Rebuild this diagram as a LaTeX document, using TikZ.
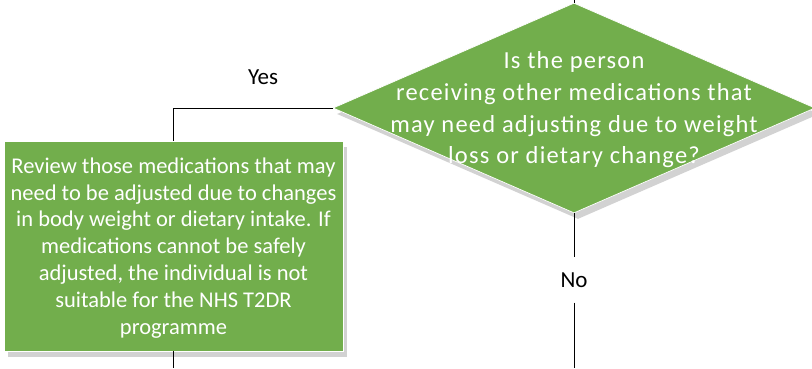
\documentclass[tikz,border=0pt]{standalone}
\usepackage{fontspec}
\setmainfont{Carlito}
\newfontfamily\decfont[LetterSpace=5]{Carlito}
\usetikzlibrary{shapes.geometric,shadows}
\definecolor{boxgreen}{HTML}{72AE4C}
\begin{document}
\begin{tikzpicture}[x=1pt,y=-1pt,
  shapefill/.style={fill=boxgreen, draw=white, line width=0.7pt,
    drop shadow={shadow xshift=4pt, shadow yshift=-6pt, fill=black!25, opacity=0.7}},
  conn/.style={draw=black, line width=1pt},
  lbl/.style={font=\fontsize{23}{26}\selectfont, text=black},
  wtext/.style={text=white, align=center, inner sep=0pt}]
\useasboundingbox (0,0) rectangle (812,368);
% decision
\node[shapefill, diamond, minimum width=482pt, minimum height=210pt, aspect=2.295, inner sep=0pt] (dec) at (574,108) {};
\node[wtext, font=\decfont\fontsize{24.5}{31.7}\selectfont] (dectext) at (574,110)
  {Is the person\\receiving other medications that\\may need adjusting due to weight\\loss or dietary change?};
% review box
\node[shapefill, rectangle, minimum width=339pt, minimum height=210pt, inner sep=0pt] (rev) at (173.5,246) {};
\node[wtext, font=\fontsize{22.5}{26.9}\selectfont] (revtext) at (173.5,248)
  {Review those medications that may\\need to be adjusted due to changes\\in body weight or dietary intake. If\\medications cannot be safely\\adjusted, the individual is not\\suitable for the NHS T2DR\\programme};
% coordinates
\coordinate (top) at (574,0);
\coordinate (corner) at (173.5,108);
\coordinate (revend) at (173.5,368);
\coordinate (noend) at (574,368);
\node[lbl, inner sep=0pt] (yes) at (263,77) {Yes};
\node[lbl, inner sep=0pt, minimum height=45pt] (no) at (574,280) {No};
% connectors
\draw[conn] (top) -- (dec.north);
\draw[conn] (dec.west) -- (corner) -- (rev.north);
\draw[conn] (rev.south) -- (revend);
\draw[conn] (dec.south) -- (no.north);
\draw[conn] (no.south) -- (noend);
\end{tikzpicture}
\end{document}
